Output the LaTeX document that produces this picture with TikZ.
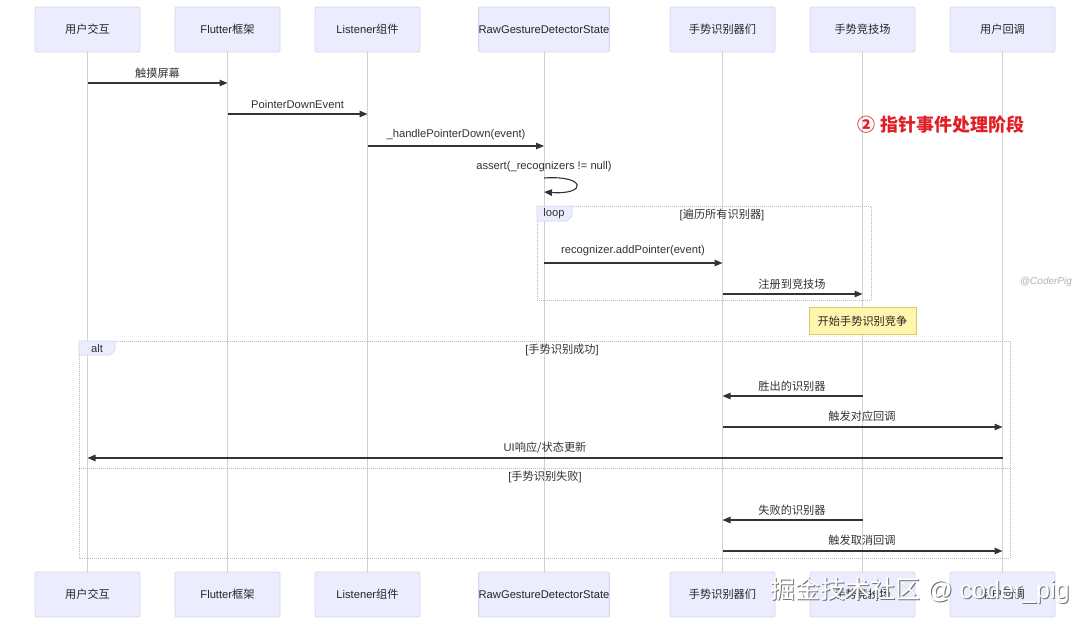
\documentclass[tikz,border=0pt]{standalone}
\usepackage{fontspec}
\setmainfont{Liberation Sans}
\newfontfamily\cjk{Noto Sans CJK SC}
\usetikzlibrary{arrows.meta,calc}
\definecolor{actfill}{HTML}{ECECFF}
\definecolor{actdraw}{HTML}{D6D6EE}
\definecolor{lifel}{HTML}{CFCFDF}
\definecolor{msgc}{HTML}{333333}
\definecolor{framec}{HTML}{B8B8C8}
\definecolor{notefill}{HTML}{FFF5AD}
\definecolor{notedraw}{HTML}{D8CC6A}
\definecolor{titlered}{RGB}{226,30,36}
\begin{document}
\begin{tikzpicture}[x=1pt,y=-1pt, font=\fontsize{11.2}{13}\selectfont,
 actor/.style={draw=actdraw, fill=actfill, rounded corners=2pt, minimum width=105pt, minimum height=45pt, inner sep=0pt, text=black!85, line width=0.8pt},
 life/.style={draw=lifel, line width=0.9pt},
 msg/.style={draw=msgc, line width=1.1pt, -{Triangle[length=8pt,width=6.5pt]}},
 lbl/.style={text=msgc, inner sep=0pt},
 frame/.style={draw=framec, line width=0.6pt, dash pattern=on 1pt off 1pt},
 tab/.style={fill=actfill, draw=actdraw, line width=0.6pt}]

\useasboundingbox[fill=white] (0,0) rectangle (1090,625);

% actors top
\node[actor] (a1t) at (87.5,29.5) {\cjk 用户交互};
\node[actor] (a2t) at (227.5,29.5) {Flutter{\cjk 框架}};
\node[actor] (a3t) at (367.5,29.5) {Listener{\cjk 组件}};
\node[actor, minimum width=130pt] (a4t) at (544,29.5) {RawGestureDetectorState};
\node[actor] (a5t) at (722.5,29.5) {\cjk 手势识别器们};
\node[actor] (a6t) at (862.5,29.5) {\cjk 手势竞技场};
\node[actor] (a7t) at (1002.5,29.5) {\cjk 用户回调};
% actors bottom
\node[actor] (a1b) at (87.5,594.5) {\cjk 用户交互};
\node[actor] (a2b) at (227.5,594.5) {Flutter{\cjk 框架}};
\node[actor] (a3b) at (367.5,594.5) {Listener{\cjk 组件}};
\node[actor, minimum width=130pt] (a4b) at (544,594.5) {RawGestureDetectorState};
\node[actor] (a5b) at (722.5,594.5) {\cjk 手势识别器们};
\node[actor] (a6b) at (862.5,594.5) {\cjk 手势竞技场};
\node[actor] (a7b) at (1002.5,594.5) {\cjk 用户回调};
% lifelines
\foreach \i in {1,...,7} {\draw[life] (a\i t.south) -- (a\i b.north);}

% loop frame
\draw[frame] (537,206) rectangle (871,300);
\draw[tab] (537,206) -- (572,206) -- (572,216) -- (567,221) -- (537,221) -- cycle;
\node[lbl] (looplbl) at (554,214) {loop};
\node[lbl] (loopg) at (722,215) {[{\cjk 遍历所有识别器}]};

% alt frame
\draw[frame] (79,341) rectangle (1010,558);
\draw[frame] (79,468) -- (1010,468);
\draw[tab] (79,341) -- (115,341) -- (115,350) -- (110,355) -- (79,355) -- cycle;
\node[lbl] (altlbl) at (97,348.5) {alt};
\node[lbl] (altg1) at (562,350) {[{\cjk 手势识别成功}]};
\node[lbl] (altg2) at (545,477) {[{\cjk 手势识别失败}]};

% messages
\draw[msg] (a1t |- 0,83) -- (a2t |- 0,83);
\node[lbl] (m1) at (157.5,73) {\cjk 触摸屏幕};
\draw[msg] (a2t |- 0,114) -- (a3t |- 0,114);
\node[lbl] (m2) at (297.5,104) {PointerDownEvent};
\draw[msg] (a3t |- 0,146) -- (a4t |- 0,146);
\node[lbl] (m3) at (456,135) {\_handlePointerDown(event)};
\node[lbl] (m4) at (544,167) {assert(\_recognizers != null)};
\draw[msg] (a4t |- 0,178) .. controls (587,175) and (587,195) .. (a4t |- 0,192);
\draw[msg] (a4t |- 0,263) -- (a5t |- 0,263);
\node[lbl] (m5) at (633,251) {recognizer.addPointer(event)};
\draw[msg] (a5t |- 0,294) -- (a6t |- 0,294);
\node[lbl] (m6) at (792,284) {\cjk 注册到竞技场};

% note
\node[draw=notedraw, fill=notefill, minimum width=107pt, minimum height=27pt, inner sep=0pt, text=black!85, line width=0.6pt] (note) at (862.5,321) {\cjk 开始手势识别竞争};

\draw[msg] (a6t |- 0,396) -- (a5t |- 0,396);
\node[lbl] (m7) at (792,386) {\cjk 胜出的识别器};
\draw[msg] (a5t |- 0,427) -- (a7t |- 0,427);
\node[lbl] (m8) at (862,416) {\cjk 触发对应回调};
\draw[msg] (a7t |- 0,458) -- (a1t |- 0,458);
\node[lbl] (m9) at (545,448) {UI{\cjk 响应/状态更新}};
\draw[msg] (a6t |- 0,520) -- (a5t |- 0,520);
\node[lbl] (m10) at (792,510) {\cjk 失败的识别器};
\draw[msg] (a5t |- 0,551) -- (a7t |- 0,551);
\node[lbl] (m11) at (862,540) {\cjk 触发取消回调};

% title
\node[text=titlered, inner sep=0pt, font=\fontsize{18}{20}\selectfont\bfseries\cjk] (title) at (941,125) {② 指针事件处理阶段};

% watermarks
\node[text=black!30, inner sep=0pt, font=\fontsize{10}{12}\selectfont\itshape] (wm1) at (1046,282) {@CoderPig};
\node[text=black!55, inner sep=0pt, font=\fontsize{25}{28}\selectfont] (wm2s) at (921,591) {{\cjk 掘金技术社区} @ coder\_pig};
\node[text=white, inner sep=0pt, font=\fontsize{25}{28}\selectfont] (wm2) at (920,590) {{\cjk 掘金技术社区} @ coder\_pig};
\end{tikzpicture}
\end{document}
